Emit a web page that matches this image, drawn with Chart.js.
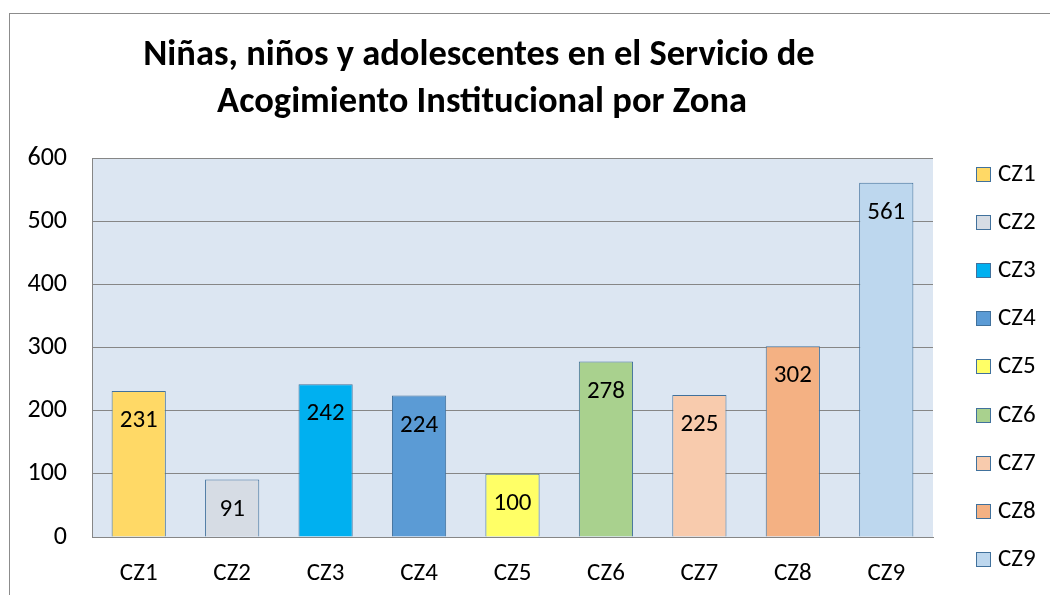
<!DOCTYPE html>
<html>
<head>
<meta charset="utf-8">
<script src="https://cdn.jsdelivr.net/npm/chart.js@4"></script>
<style>
  html, body { margin: 0; padding: 0; background: #fff; }
  #wrap { width: 1050px; height: 595px; }
</style>
</head>
<body>
<div id="wrap"><canvas id="zonaChart" width="1050" height="595"></canvas></div>
<script>
const categories = ['CZ1', 'CZ2', 'CZ3', 'CZ4', 'CZ5', 'CZ6', 'CZ7', 'CZ8', 'CZ9'];
const values = [231, 91, 242, 224, 100, 278, 225, 302, 561];
const barColors = ['#FFD966', '#D6DCE4', '#00B0F0', '#5B9BD5', '#FFFF66', '#A9D18E', '#F8CBAD', '#F4B183', '#BDD7EE'];
const yTicks = [0, 100, 200, 300, 400, 500, 600];
const titleLines = ['Niñas, niños y adolescentes en el Servicio de', 'Acogimiento Institucional por Zona'];

const FONT = 'Calibri, Carlito, Lato, sans-serif';
const borderColor = '#41719C';

// frame, plot background and title
const decorPlugin = {
    id: 'decor',
    beforeDraw(chart) {
        const ctx = chart.ctx;
        const a = chart.chartArea;
        ctx.save();
        ctx.fillStyle = '#DCE6F2';
        ctx.fillRect(a.left, a.top, a.right - a.left, a.bottom - a.top);
        ctx.strokeStyle = '#8C8C8C';
        ctx.lineWidth = 1;
        ctx.strokeRect(9.5, 13.5, 1200, 800);
        ctx.fillStyle = '#000';
        ctx.font = 'bold 36.5px ' + FONT;
        ctx.textAlign = 'center';
        ctx.textBaseline = 'alphabetic';
        ctx.fillText(titleLines[0], 479, 65);
        ctx.fillText(titleLines[1], 482, 112);
        ctx.restore();
    }
};

// value labels inside the top of each bar
const valueLabels = {
    id: 'valueLabels',
    afterDatasetsDraw(chart) {
        const ctx = chart.ctx;
        const meta = chart.getDatasetMeta(0);
        ctx.save();
        ctx.fillStyle = '#000';
        ctx.font = '25px ' + FONT;
        ctx.textAlign = 'center';
        ctx.textBaseline = 'middle';
        meta.data.forEach((bar, i) => {
            ctx.fillText(String(values[i]), bar.x, bar.y + 30);
        });
        ctx.restore();
    }
};

// legend, one entry per zone, stacked down the right side
const zoneLegend = {
    id: 'zoneLegend',
    afterDraw(chart) {
        const ctx = chart.ctx;
        ctx.save();
        ctx.font = '25px ' + FONT;
        ctx.textBaseline = 'middle';
        ctx.textAlign = 'left';
        categories.forEach((c, i) => {
            const y = Math.round(167 + i * 48.1);
            ctx.fillStyle = barColors[i];
            ctx.fillRect(976, y, 15, 15);
            ctx.strokeStyle = borderColor;
            ctx.lineWidth = 1;
            ctx.strokeRect(976.5, y + 0.5, 14, 14);
            ctx.fillStyle = '#000';
            ctx.fillText(c, 998, y + 8);
        });
        ctx.restore();
    }
};

const ctx = document.getElementById('zonaChart').getContext('2d');
new Chart(ctx, {
    type: 'bar',
    data: {
        labels: categories,
        datasets: [{
            data: values,
            backgroundColor: barColors,
            borderColor: borderColor,
            borderWidth: 1,
            barPercentage: 0.58,
            categoryPercentage: 1
        }]
    },
    options: {
        responsive: false,
        animation: false,
        layout: { padding: { top: 158, left: 10, right: 117, bottom: 0 } },
        plugins: {
            tooltip: { enabled: false },
            legend: { display: false }
        },
        scales: {
            x: {
                grid: { display: false },
                border: { display: true, color: '#868686' },
                ticks: { color: '#000', padding: 14, font: { family: FONT, size: 25 } },
                afterFit: s => { s.height = 58; }
            },
            y: {
                min: 0,
                max: 600,
                afterBuildTicks: s => { s.ticks = yTicks.map(v => ({ value: v })); },
                grid: { color: '#868686', drawTicks: false },
                border: { display: true, color: '#868686' },
                ticks: { color: '#000', padding: 25, font: { family: FONT, size: 26 } },
                afterFit: s => { s.width = 82; }
            }
        }
    },
    plugins: [decorPlugin, valueLabels, zoneLegend]
});
</script>
</body>
</html>
